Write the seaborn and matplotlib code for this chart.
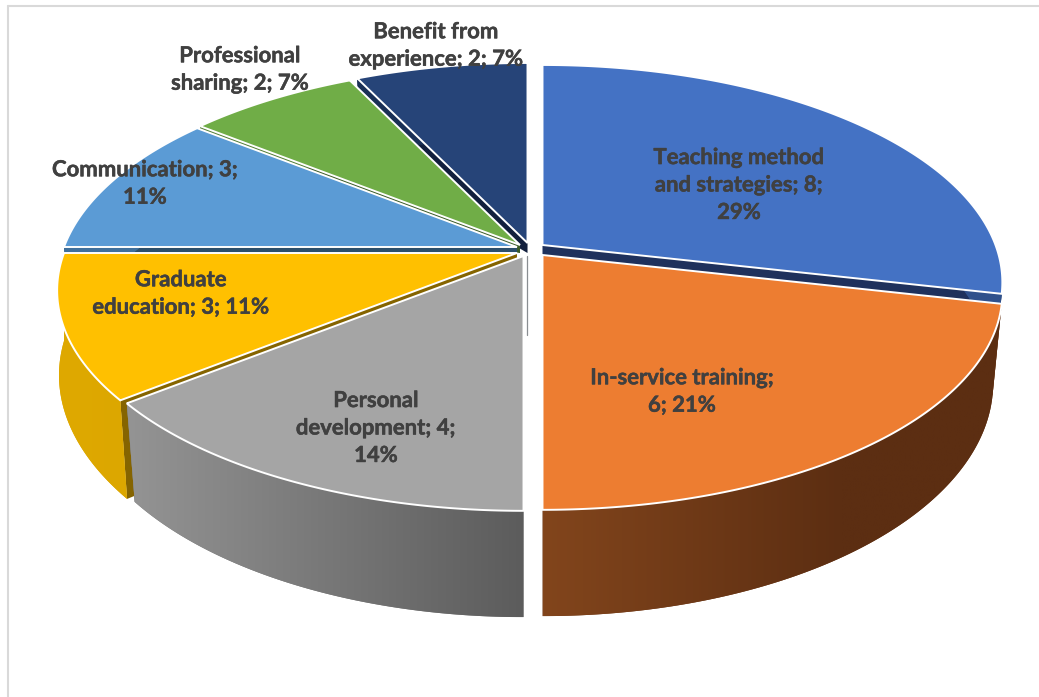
import numpy as np
import matplotlib
matplotlib.use("Agg")
import matplotlib.pyplot as plt
import matplotlib.patheffects as pe
from matplotlib.colors import to_rgb
from matplotlib.patches import Polygon
import seaborn as sns

categories = ["Teaching method and strategies", "In-service training", "Personal development",
              "Graduate education", "Communication", "Professional sharing", "Benefit from experience"]
values = [8, 6, 4, 3, 3, 2, 2]
label_templates = ["Teaching method\nand strategies; {v};\n{p}%", "In-service training;\n{v}; {p}%",
                   "Personal\ndevelopment; {v};\n{p}%", "Graduate\neducation; {v}; {p}%",
                   "Communication; {v};\n{p}%", "Professional\nsharing; {v}; {p}%",
                   "Benefit from\nexperience; {v}; {p}%"]
label_xy = [(739, 185), (682, 391.5), (376, 428), (181, 293.5), (145, 183.5), (240, 69.5), (436, 45.5)]
top_colors = ["#4472c4", "#ed7d31", "#a5a5a5", "#ffc000", "#5b9bd5", "#70ad47", "#264478"]
edge_colors = ["#1f315c", "#7a3f18", "#8a8a8a", "#856400", "#2c4f6b", "#3a5a25", "#121f3d"]
wall_start = ["#30518c", "#82451c", "#949494", "#dfa900", "#40709c", "#507c33", "#1a3056"]
wall_end = ["#30518c", "#5c2e12", "#5c5c5c", "#dca700", "#40709c", "#507c33", "#1a3056"]
wall_ramp = [1, 0.65, 1, 1, 1, 1, 1]
lower_shrink = [(0.98, 0.98), (0.98, 0.98), (0.98, 0.98), (0.983, 1.0), (0.98, 0.98), (0.98, 0.98), (0.98, 0.98)]
apex = [(542.5, 245), (542.5, 255), (523.5, 256), (517, 253), (517, 247), (520, 245), (527.5, 243)]
apex_depth = [88, 88, 88, 88, 8, 8, 10]
draw_order = [6, 5, 4, 0, 3, 2, 1]

AX, BY, K, DEPTH = 453.0, 211.0, 0.172, 88.0

sns.set_theme(style="white")
plt.rcParams["font.family"] = ["Lato", "DejaVu Sans"]

fig, ax = plt.subplots(figsize=(10.39, 6.97), dpi=100)
fig.subplots_adjust(0, 0, 1, 1)
ax.axis("off")
ax.plot([8, 8], [697, 6], color="#d9d9d9", lw=1.5, solid_joinstyle="miter")
ax.plot([8, 1039], [6, 6], color="#d9d9d9", lw=1.5)


def project(theta, i, lower=False):
    """Angle clockwise from the top to picture position on the disc of slice i."""
    u, v = np.sin(theta), np.cos(theta)
    w = 1 + K * v
    cx, cy = apex[i]
    x = AX * u / w
    y = -BY * v / w
    if lower:
        s = np.linspace(lower_shrink[i][0], lower_shrink[i][1], len(theta))
        return cx + x * s, cy + y + DEPTH / w
    return cx + x, cy + y


total = sum(values)
edges = np.concatenate([[0], np.cumsum(values)]) / total * 2 * np.pi

for layer, i in enumerate(draw_order):
    t = np.linspace(edges[i], edges[i + 1], 200)
    x0, y0 = project(t, i)
    x1, y1 = project(t, i, lower=True)
    cx, cy = apex[i]
    c0, c1 = np.array(to_rgb(wall_start[i])), np.array(to_rgb(wall_end[i]))
    # radial side faces
    for k in (0, -1):
        ax.fill([cx, x0[k], x1[k], cx], [cy, y0[k], y1[k], cy + apex_depth[i]],
                color=edge_colors[i], lw=0, zorder=1 + layer * 3)
    # curved outer wall, shaded across its width
    lo, hi = min(x0.min(), x1.min()), max(x0.max(), x1.max())
    ylo, yhi = min(y0.min(), y1.min()), max(y0.max(), y1.max())
    shade = np.clip(np.linspace(0, 1, 256) / wall_ramp[i], 0, 1)[:, None] * (c1 - c0) + c0
    wall = Polygon(np.c_[np.r_[x0, x1[::-1]], np.r_[y0, y1[::-1]]], closed=True,
                   facecolor=tuple(c0 * 0.5 + c1 * 0.5), edgecolor="none", zorder=2 + layer * 3)
    ax.add_patch(wall)
    im = ax.imshow(shade[None, :, :], extent=(lo, hi, yhi, ylo), aspect="auto",
                   interpolation="bilinear", zorder=2 + layer * 3)
    im.set_clip_path(wall)
    # top face
    ax.fill(np.r_[cx, x0], np.r_[cy, y0], facecolor=top_colors[i], edgecolor="white", lw=1.4,
            joinstyle="miter", zorder=3 + layer * 3)

# narrow visible inner face beside the gap
ax.plot([apex[2][0] + 3.5] * 2, [apex[2][1], apex[2][1] + 79], color="#8a8e92", lw=0.9, zorder=40)

for tmpl, v, (lx, ly) in zip(label_templates, values, label_xy):
    p = round(100 * v / total)
    ax.text(lx, ly, tmpl.format(v=v, p=p), ha="center", va="center", fontsize=15.9, fontweight="bold",
            color="#404040", linespacing=1.38, zorder=50,
            path_effects=[pe.withStroke(linewidth=0.35, foreground="#404040")])

ax.set_xlim(0, 1039)
ax.set_ylim(697, 0)
fig.savefig("out.png", dpi=100)
